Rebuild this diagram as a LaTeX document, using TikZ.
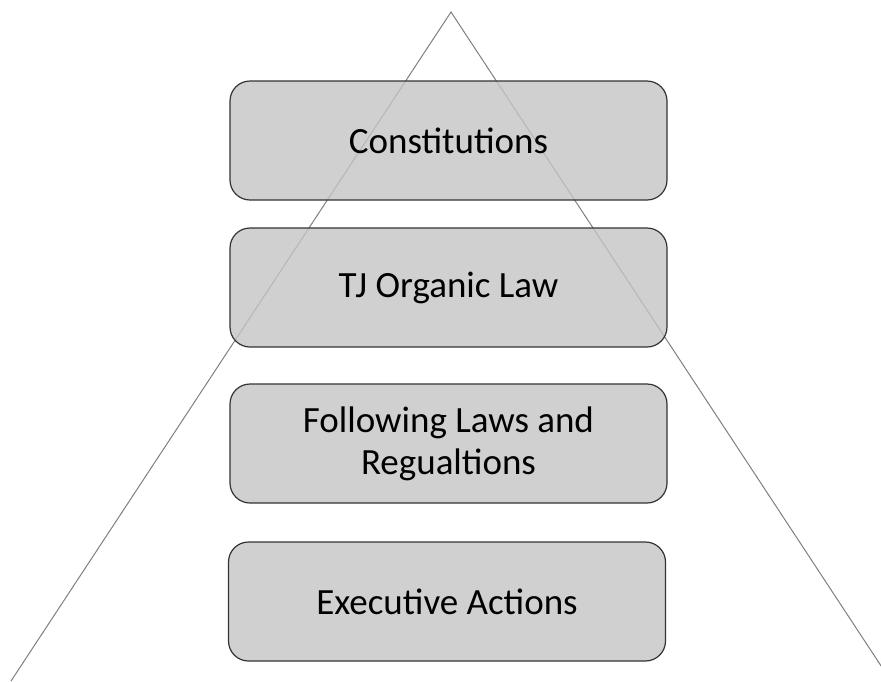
\documentclass[tikz,border=0pt]{standalone}
\usepackage{fontspec}
\setmainfont{Carlito}
\definecolor{boxgray}{HTML}{C4C4C4}
\definecolor{edgegray}{HTML}{7F7F7F}
\tikzset{
  level/.style={draw=black!80, line width=1.2pt, fill=boxgray, fill opacity=0.8,
    text opacity=1, rounded corners=20pt, minimum width=437pt, minimum height=119pt,
    align=center, font=\fontsize{37}{42}\selectfont},
  side/.style={draw=edgegray, line width=1pt}
}
\begin{document}
\begin{tikzpicture}[x=1pt, y=-1pt]
    \useasboundingbox (0,0) rectangle (881,681);
    \clip (0,0) rectangle (881,681);

    % pyramid sides
    \coordinate (apex) at (451, 12);
    \coordinate (baseL) at (11, 681);
    \coordinate (baseR) at (891, 681);
    \draw[side] (baseL) -- (apex) -- (baseR);

    % levels
    \node[level] (constitutions) at (448.5, 140.5) {Constitutions};
    \node[level] (organic) at (448.5, 287.5) {TJ Organic Law};
    \node[level] (laws) at (448.5, 443.5) {Following Laws and\\Regualtions};
    \node[level] (executive) at (447, 601.5) {Executive Actions};

\end{tikzpicture}
\end{document}
